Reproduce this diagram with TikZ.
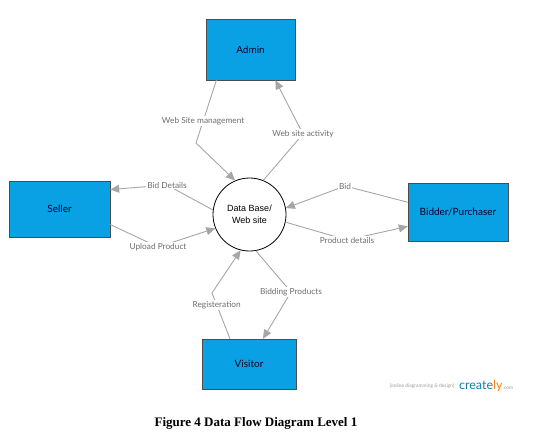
\documentclass[tikz,border=0pt]{standalone}
\usepackage{fontspec}
\setmainfont{Liberation Serif}
\newfontfamily\latofont{Lato}
\newfontfamily\arialfont{Liberation Sans}
\usepackage{tikz}
\usetikzlibrary{positioning, calc, arrows.meta}

\definecolor{boxblue}{HTML}{0AA1E4}
\definecolor{flowgray}{HTML}{A6A6A6}
\definecolor{lblgray}{HTML}{6E6E6E}

\begin{document}
\begin{tikzpicture}[
        x=1pt, y=-1pt,
        every node/.style={font=\latofont\fontsize{8.3}{9}\selectfont},
        entity/.style={draw=black!70, fill=boxblue, text=black!85!blue, inner sep=0pt, font=\latofont\fontsize{10}{11}\selectfont},
        store/.style={draw, circle, thick, minimum size=73pt, inner sep=0pt, align=center, font=\arialfont\fontsize{9}{11.5}\selectfont},
        lbl/.style={fill=white, text=lblgray, inner sep=1pt},
        flow/.style={draw=flowgray, line width=0.9pt, -{Triangle[length=9pt, width=8pt]}}
    ]
        \useasboundingbox (0,0) rectangle (544,445);

        % Nodes
        \node[entity, minimum width=89pt, minimum height=61pt] (admin) at (250.5,49.5) {Admin};
        \node[entity, minimum width=101pt, minimum height=56pt] (seller) at (59.5,209) {Seller};
        \node[entity, minimum width=100pt, minimum height=58pt] (bidder) at (458,212) {Bidder/Purchaser};
        \node[entity, minimum width=94pt, minimum height=50pt] (visitor) at (249,364) {Visitor};
        \node[store] (db) at (249.5,214.5) {Data Base/\\Web site};

        % Bends
        \coordinate (bWSM) at (196,143);
        \coordinate (bWSA) at (303,134);
        \coordinate (bBD) at (167,185);
        \coordinate (bUP) at (158,247);
        \coordinate (bBid) at (345,186);
        \coordinate (bPD) at (347,240);
        \coordinate (bReg) at (212,293);
        \coordinate (bBP) at (291,292);

        % Arrows
        \draw[flow] (admin.222) -- node[lbl, pos=0.65] {Web Site management} (bWSM) -- (db.113);
        \draw[flow] (db.68) -- (bWSA) node[lbl] {Web site activity} -- (admin.309);
        \draw[flow] (db.173) -- (bBD) node[lbl] {Bid Details} -- (seller.21);
        \draw[flow] (seller.-17) -- (bUP) node[lbl] {Upload Product} -- (db.202);
        \draw[flow] (bidder.169) -- (bBid) node[lbl] {Bid} -- (db.10);
        \draw[flow] (db.348) -- (bPD) node[lbl] {Product details} -- (bidder.196);
        \draw[flow] (visitor.127) -- node[lbl, pos=0.74] {Registeration} (bReg) -- (db.256);
        \draw[flow] (db.280) -- (bBP) node[lbl] {Bidding Products} -- (visitor.61);

        % Watermark and caption
        \node[text=black!40, font=\latofont\fontsize{4.9}{6}\selectfont] (wm) at (422,386) {[online diagramming \& design]};
        \node[right=1pt of wm, inner sep=0pt, font=\latofont\fontsize{12.5}{14}\selectfont] (crly) {\textcolor{boxblue!80!black}{create}\textcolor{orange}{ly}};
        \node[right=0pt of crly.base east, anchor=base west, inner sep=0pt, text=black!40, font=\latofont\fontsize{4.9}{6}\selectfont] (com) {.com};
        \node[font=\rmfamily\bfseries\fontsize{13}{15}\selectfont] (caption) at (256,423) {Figure 4 Data Flow Diagram Level 1};
\end{tikzpicture}
\end{document}
